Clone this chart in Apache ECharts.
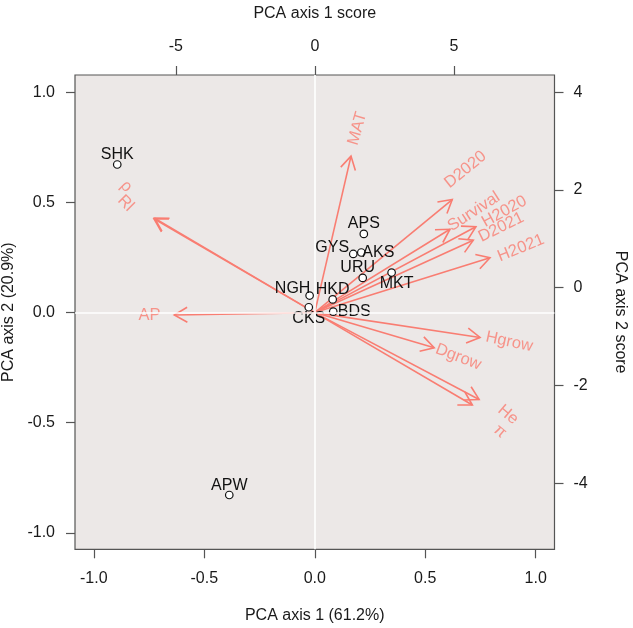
<!DOCTYPE html>
<html>
<head>
<meta charset="utf-8">
<script src="https://cdn.jsdelivr.net/npm/echarts@6/dist/echarts.min.js"></script>
<style>
  html, body { margin: 0; padding: 0; background: #ffffff; }
  #chart { width: 633px; height: 628px; }
</style>
</head>
<body>
<div id="chart"></div>
<script>
// sample scores (top / right axes)
var sampleNames = ['SHK', 'APS', 'GYS', 'AKS', 'URU', 'MKT', 'NGH', 'HKD', 'CKS', 'BDS', 'APW'];
var score1 = [-7.11, 1.76, 1.38, 1.67, 1.72, 2.76, -0.19, 0.64, -0.22, 0.66, -3.08];
var score2 = [2.52, 1.10, 0.69, 0.72, 0.20, 0.31, -0.16, -0.24, -0.40, -0.49, -4.24];

// variable loadings (bottom / left axes)
var varNames = ['MAT', 'D2020', 'Survival', 'H2020', 'D2021', 'H2021', 'Hgrow', 'Dgrow', 'He', 'π', 'AP', 'Rl', 'ρ'];
var load1 = [0.193, 0.732, 0.720, 0.858, 0.844, 0.933, 0.880, 0.636, 0.875, 0.839, -0.748, -0.856, -0.853];
var load2 = [0.836, 0.604, 0.445, 0.459, 0.387, 0.293, -0.133, -0.188, -0.464, -0.494, -0.013, 0.501, 0.505];

// tick labels
var xTicksLoad = [-1, -0.5, 0, 0.5, 1];
var yTicksLoad = [-1, -0.5, 0, 0.5, 1];
var xTicksScore = [-5, 0, 5];
var yTicksScore = [-4, -2, 0, 2, 4];

// styling
var arrowColor = '#F97D72';
var arrowScale = 0.85;
var varRotate = [74, 39, 33, 29, 26, 22, -12, -21, -40, -40, 0, -45, -45];
// screen-pixel nudges for crowded labels
var varNudge = [[0,0],[-11,-10],[0,-3],[0,0],[0,0],[0,0],[0,0],[3,3],[0,0],[0,10],[0,0],[0,1],[0,-15]];
var sampleNudge = [[0,-10],[0,-10],[-21,-6],[17,0],[-5,-10],[5,11],[-17,-7],[0,-10],[0,11],[21,0],[0,-9]];
var font = 'Liberation Sans, Arial, sans-serif';
var txt = '#1a1a1a';

var chart = echarts.init(document.getElementById('chart'));

function axisBase(ticks, fmt, margin) {
	return {
		type: 'value',
		axisLine: {show: false, onZero: false},
		splitLine: {show: false},
		axisTick: {show: true, length: 9, customValues: ticks, lineStyle: {color: '#555', width: 1.2}},
		axisLabel: {customValues: ticks, margin: margin, color: txt, fontSize: 16, fontFamily: font, formatter: fmt},
		nameLocation: 'middle',
		nameTextStyle: {color: txt, fontSize: 16, fontFamily: font}
	};
}
var fmt1 = function(v){ return v.toFixed(1); };
var fmt0 = function(v){ return String(Math.round(v)); };

var xBottom = axisBase(xTicksLoad, fmt1, 21);
xBottom.position = 'bottom'; xBottom.min = -1.085; xBottom.max = 1.085;
xBottom.name = 'PCA axis 1 (61.2%)'; xBottom.nameGap = 58;

var xTop = axisBase(xTicksScore, fmt0, 20);
xTop.position = 'top'; xTop.min = -8.63; xTop.max = 8.62;
xTop.name = 'PCA axis 1 score'; xTop.nameGap = 53;

var yLeft = axisBase(yTicksLoad, fmt1, 20);
yLeft.position = 'left'; yLeft.min = -1.075; yLeft.max = 1.079;
yLeft.name = 'PCA axis 2 (20.9%)'; yLeft.nameGap = 55; yLeft.nameRotate = 90;

var yRight = axisBase(yTicksScore, fmt0, 19);
yRight.position = 'right'; yRight.min = -5.35; yRight.max = 4.35;
yRight.name = 'PCA axis 2 score'; yRight.nameGap = 58; yRight.nameRotate = -90;

function renderArrow(params, api) {
	var o = api.coord([0, 0]);
	var e = api.coord([api.value(0) * arrowScale, api.value(1) * arrowScale]);
	var a = Math.atan2(e[1] - o[1], e[0] - o[0]);
	var h = 15, w = Math.PI / 6;
	var p1 = [e[0] - h * Math.cos(a - w), e[1] - h * Math.sin(a - w)];
	var p2 = [e[0] - h * Math.cos(a + w), e[1] - h * Math.sin(a + w)];
	var st = {stroke: arrowColor, lineWidth: 1.6, fill: null};
	return {
		type: 'group',
		children: [
			{type: 'line', shape: {x1: o[0], y1: o[1], x2: e[0], y2: e[1]}, style: st},
			{type: 'polyline', shape: {points: [p1, e, p2]}, style: st}
		]
	};
}

// label offset is applied in the rotated text frame, so turn screen nudges into it
function localOffset(d, deg) {
	var t = deg * Math.PI / 180;
	return [d[0] * Math.cos(t) - d[1] * Math.sin(t), d[0] * Math.sin(t) + d[1] * Math.cos(t)];
}

var arrowData = load1.map(function(v, i){ return [v, load2[i]]; });
var varLabelData = load1.map(function(v, i){
	return {
		name: varNames[i],
		value: [v, load2[i]],
		label: {rotate: varRotate[i], offset: localOffset(varNudge[i], varRotate[i])}
	};
});
var sampleData = score1.map(function(v, i){
	return {
		name: sampleNames[i],
		value: [v, score2[i]],
		label: {offset: sampleNudge[i]}
	};
});

var option = {
	backgroundColor: '#ffffff',
	animation: false,
	grid: {
		left: 75, right: 78.5, top: 75, bottom: 78.7,
		outerBoundsMode: 'none', containLabel: false,
		show: true, backgroundColor: '#ECE8E7', borderColor: '#555', borderWidth: 1.2
	},
	xAxis: [xBottom, xTop],
	yAxis: [yLeft, yRight],
	series: [
		{
			// zero lines
			type: 'scatter', xAxisIndex: 0, yAxisIndex: 0, z: 1, silent: true,
			data: [],
			markLine: {
				silent: true, symbol: 'none', animation: false,
				label: {show: false},
				lineStyle: {color: '#ffffff', width: 1.6, type: 'solid'},
				data: [{xAxis: 0}, {yAxis: 0}]
			}
		},
		{
			type: 'custom', xAxisIndex: 0, yAxisIndex: 0, z: 2, silent: true,
			renderItem: renderArrow,
			data: arrowData
		},
		{
			type: 'scatter', xAxisIndex: 0, yAxisIndex: 0, z: 3, silent: true,
			symbolSize: 0,
			label: {show: true, position: 'inside', formatter: '{b}', color: arrowColor, fontSize: 16.5, fontFamily: font},
			data: varLabelData
		},
		{
			type: 'scatter', xAxisIndex: 1, yAxisIndex: 1, z: 4, silent: true,
			symbol: 'circle', symbolSize: 7.5,
			itemStyle: {color: '#ffffff', borderColor: '#111', borderWidth: 1.2, opacity: 1},
			label: {show: true, position: 'inside', formatter: '{b}', color: '#111', fontSize: 16, fontFamily: font},
			data: sampleData
		}
	]
};
chart.setOption(option);
</script>
</body>
</html>
